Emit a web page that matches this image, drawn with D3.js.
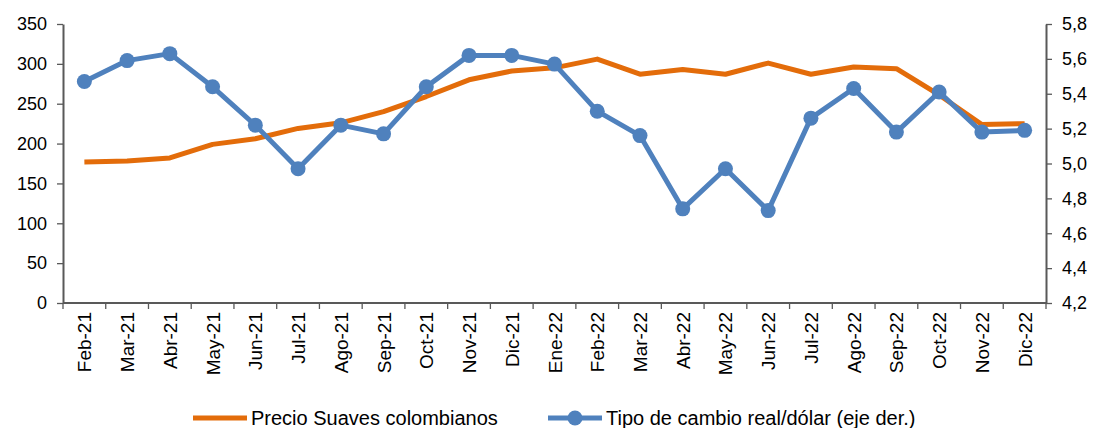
<!DOCTYPE html>
<html>
<head>
<meta charset="utf-8">
<script src="https://cdn.jsdelivr.net/npm/d3@7"></script>
<style>
  body { margin: 0; background: #fff; }
  svg text { font-family: "Liberation Sans", Arial, sans-serif; fill: #000; }
</style>
</head>
<body>
<svg id="chart" width="1096" height="428"></svg>
<script>
// meses
const meses = ["Feb-21","Mar-21","Abr-21","May-21","Jun-21","Jul-21","Ago-21","Sep-21","Oct-21","Nov-21","Dic-21",
  "Ene-22","Feb-22","Mar-22","Abr-22","May-22","Jun-22","Jul-22","Ago-22","Sep-22","Oct-22","Nov-22","Dic-22"];

// precio suaves colombianos (eje izq.)
const precio = [177, 178, 182, 199, 206, 219, 226, 240, 259, 280, 291, 295, 306, 287, 293, 287, 301, 287, 296, 294, 261, 224, 225];

// tipo de cambio real/dolar (eje der.)
const tipoCambio = [5.47, 5.59, 5.63, 5.44, 5.22, 4.97, 5.22, 5.17, 5.44, 5.62, 5.62, 5.57, 5.30, 5.16, 4.74, 4.97, 4.73, 5.26, 5.43, 5.18, 5.41, 5.18, 5.19];

const ticksIzq = [0, 50, 100, 150, 200, 250, 300, 350];
const ticksDer = [4.2, 4.4, 4.6, 4.8, 5.0, 5.2, 5.4, 5.6, 5.8];

const naranja = "#E36C0A";
const azul = "#4F81BD";
const gris = "#595959";

const svg = d3.select("#chart");
const mIzq = 63, mDer = 1046, mSup = 24, mInf = 303;

const x = d3.scaleBand().domain(meses).range([mIzq, mDer]).padding(0);
const yL = d3.scaleLinear().domain([0, 350]).range([mInf, mSup]);
const yR = d3.scaleLinear().domain([4.2, 5.8]).range([mInf, mSup]);
const cx = d => x(d) + x.bandwidth() / 2;

// ejes
const axL = svg.append("g").attr("transform", `translate(${mIzq},0)`)
  .call(d3.axisLeft(yL).tickValues(ticksIzq).tickSize(6).tickPadding(10).tickSizeOuter(0));
const axR = svg.append("g").attr("transform", `translate(${mDer},0)`)
  .call(d3.axisRight(yR).tickValues(ticksDer).tickSize(6).tickPadding(10).tickSizeOuter(0)
    .tickFormat(d => d3.format(".1f")(d).replace(".", ",")));

// eje x con marcas entre categorias
const axB = svg.append("g").attr("transform", `translate(0,${mInf})`);
axB.append("line").attr("x1", mIzq).attr("x2", mDer).attr("stroke", gris).attr("stroke-width", 2);
const bordes = meses.map(m => x(m)).concat([mDer]);
axB.selectAll("line.tk").data(bordes).join("line").attr("class", "tk")
  .attr("x1", d => d).attr("x2", d => d).attr("y1", 0).attr("y2", 6)
  .attr("stroke", gris).attr("stroke-width", 1.3);
axB.selectAll("text").data(meses).join("text")
  .attr("transform", d => `translate(${cx(d) + 7},9) rotate(-90)`)
  .attr("text-anchor", "end")
  .style("font-size", "19px")
  .text(d => d);

[axL, axR].forEach(g => {
  g.select(".domain").attr("stroke", gris).attr("stroke-width", 2);
  g.selectAll(".tick line").attr("stroke", gris).attr("stroke-width", 1.3);
  g.selectAll(".tick text").style("font-size", "18px").attr("fill", "#000");
});

// lineas
const lineaP = d3.line().x((d, i) => cx(meses[i])).y(d => yL(d));
svg.append("path").datum(precio).attr("d", lineaP)
  .attr("fill", "none").attr("stroke", naranja).attr("stroke-width", 5).attr("stroke-linejoin", "round");

const lineaT = d3.line().x((d, i) => cx(meses[i])).y(d => yR(d));
svg.append("path").datum(tipoCambio).attr("d", lineaT)
  .attr("fill", "none").attr("stroke", azul).attr("stroke-width", 5).attr("stroke-linejoin", "round");
svg.selectAll("circle.pt").data(tipoCambio).join("circle").attr("class", "pt")
  .attr("cx", (d, i) => cx(meses[i])).attr("cy", d => yR(d)).attr("r", 7.5).attr("fill", azul);

// leyenda
const ley = svg.append("g").attr("transform", "translate(0,418)");
ley.append("line").attr("x1", 193).attr("x2", 247).attr("stroke", naranja).attr("stroke-width", 5);
ley.append("text").attr("x", 251).attr("y", 7).style("font-size", "20px").text("Precio Suaves colombianos");
ley.append("line").attr("x1", 548).attr("x2", 602).attr("stroke", azul).attr("stroke-width", 5);
ley.append("circle").attr("cx", 575).attr("cy", 0).attr("r", 7.5).attr("fill", azul);
ley.append("text").attr("x", 606).attr("y", 7).style("font-size", "20px").text("Tipo de cambio real/dólar (eje der.)");
</script>
</body>
</html>
